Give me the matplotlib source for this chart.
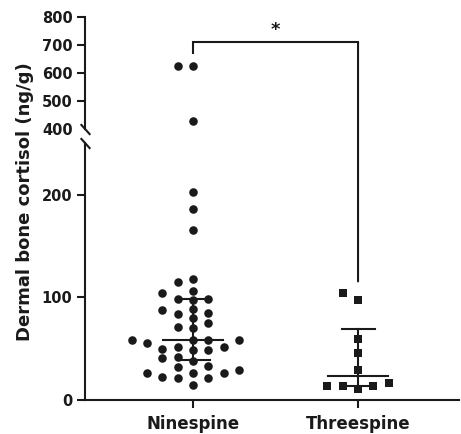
import matplotlib
matplotlib.use('Agg')
import matplotlib.pyplot as plt
import numpy as np
from matplotlib.patches import ConnectionPatch

# values (ng/g)
groups = ['Ninespine', 'Threespine']
ninespine = [625, 625, 430, 202.6, 186, 165.5, 117.8, 114.8, 106.6, 104.7,
             98.2, 97.6, 98.2, 88.5, 87.8, 85.2, 83.6, 79.7, 74.8, 70.9,
             70.0, 58.5, 58.5, 58.5, 58.5, 55.3, 51.4, 51.4, 49.8, 48.8,
             48.8, 41.7, 40.7, 38.0, 33.5, 32.5, 29.3, 26.0, 26.0, 26.0,
             22.7, 21.8, 21.2, 14.6]
threespine = [104.7, 97.6, 59.5, 46.1, 29.3, 16.9, 13.7, 13.7, 13.7, 10.7]
markers = ['o', 's']
bot_ticks = [0, 100, 200]
top_ticks = [400, 500, 600, 700, 800]
signif = '*'

ink = '#1a1a1a'
plt.rcParams['font.family'] = 'DejaVu Sans'
plt.rcParams['font.weight'] = 'bold'

fig = plt.figure(figsize=(4.61, 4.34), dpi=100)
left, right = 85 / 461, 459 / 461
ax_top = fig.add_axes([left, 1 - 129 / 434, right - left, (129 - 17) / 434])
ax_bot = fig.add_axes([left, 1 - 400 / 434, right - left, (400 - 142.5) / 434])

ax_top.set_ylim(400, 800)
ax_bot.set_ylim(0, 251.2)
for ax in (ax_top, ax_bot):
    ax.set_xlim(-0.655, 1.612)
    ax.patch.set_visible(False)
    for s in ['top', 'right']:
        ax.spines[s].set_visible(False)
    ax.spines['left'].set_linewidth(1.5)
    ax.spines['left'].set_color(ink)
    ax.tick_params(axis='y', length=6, width=1.5, color=ink, labelsize=10.5,
                   pad=3, labelcolor=ink)

ax_top.spines['bottom'].set_visible(False)
ax_top.set_xticks([])
ax_top.set_yticks(top_ticks)
ax_top.yaxis.get_major_ticks()[0].tick1line.set_visible(False)

ax_bot.spines['bottom'].set_linewidth(1.5)
ax_bot.spines['bottom'].set_color(ink)
ax_bot.set_yticks(bot_ticks)
ax_bot.set_xticks(range(len(groups)))
ax_bot.set_xticklabels(groups, fontsize=12, fontweight='bold', color=ink)
ax_bot.tick_params(axis='x', length=5.5, width=1.5, color=ink, pad=5)

# break marks on the y axis
brk = [(-0.9, 1), (0.9, -1)]
ax_top.plot([0], [0], marker=brk, markersize=7.7, mew=1.5, color=ink,
            transform=ax_top.transAxes, clip_on=False)
ax_bot.plot([0], [1], marker=brk, markersize=7.7, mew=1.5, color=ink,
            transform=ax_bot.transAxes, clip_on=False)


def swarm(values, center, step=0.093, min_px=9.0):
    """greedy column swarm, collisions checked in display space"""
    placed = []  # (slot, display y)
    xs = {}
    order = np.argsort(values)
    for i in order:
        v = values[i]
        ax = ax_top if v >= 400 else ax_bot
        ydisp = ax.transData.transform((0, v))[1]
        k = 0
        while True:
            for slot in ([0] if k == 0 else [-k, k]):
                if all(not (s == slot and abs(y - ydisp) < min_px)
                       for s, y in placed):
                    placed.append((slot, ydisp))
                    xs[i] = center + slot * step
                    break
            else:
                k += 1
                continue
            break
    return [xs[i] for i in range(len(values))]


for gi, (vals, mk) in enumerate(zip([ninespine, threespine], markers)):
    vals = np.array(vals)
    xs = np.array(swarm(vals, gi))
    hi = vals >= 400
    ax_top.scatter(xs[hi], vals[hi], marker=mk, s=38, color=ink, lw=0,
                   zorder=3, clip_on=False)
    ax_bot.scatter(xs[~hi], vals[~hi], marker=mk, s=38, color=ink, lw=0,
                   zorder=3, clip_on=False)
    # median with interquartile range
    q1, med, q3 = np.percentile(vals, [25, 50, 75], method='weibull')
    ax_bot.plot([gi - 0.18, gi + 0.18], [med, med], color=ink, lw=1.5,
                zorder=4)
    for q in (q1, q3):
        ax_bot.plot([gi - 0.1, gi + 0.1], [q, q], color=ink, lw=1.5,
                    zorder=4)
    ax_bot.plot([gi, gi], [q1, q3], color=ink, lw=1.5, zorder=4)

# significance bracket
top_y = 710
ax_top.plot([0, 0, 1], [max(ninespine) + 45, top_y, top_y], color=ink,
            lw=1.5, clip_on=False, solid_joinstyle='miter')
con = ConnectionPatch(xyA=(1, top_y), coordsA=ax_top.transData,
                      xyB=(1, max(threespine) + 11), coordsB=ax_bot.transData,
                      color=ink, lw=1.5)
fig.add_artist(con)
ax_top.text(0.5, top_y + 10, signif, ha='center', va='bottom', fontsize=13,
            fontweight='bold', color=ink)

fig.text(25 / 461, 1 - 202 / 434, 'Dermal bone cortisol (ng/g)',
         rotation=90, ha='center', va='center', fontsize=13,
         fontweight='bold', color=ink)

fig.savefig('out.png', dpi=100)
